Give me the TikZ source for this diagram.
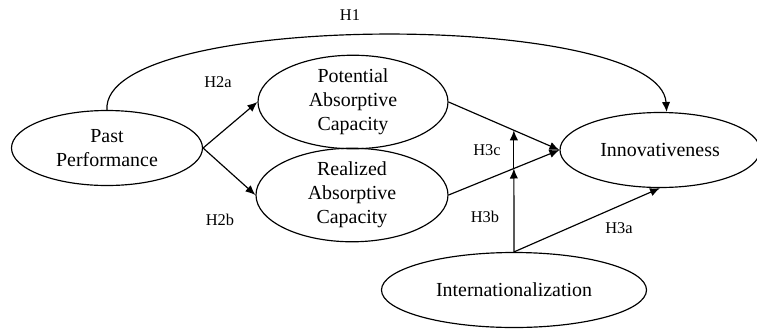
\documentclass[tikz,border=0pt]{standalone}
\usepackage{fontspec}
\setmainfont{Liberation Serif}
\usepackage{tikz}
\usetikzlibrary{shapes.geometric,arrows.meta,calc}

\begin{document}
\begin{tikzpicture}[x=0.03cm,y=-0.03cm,
  var/.style={draw, ellipse, line width=1pt, inner sep=0pt, minimum height=2.25cm,
    align=center, font=\fontsize{17}{20.5}\selectfont},
  hyp/.style={font=\fontsize{14}{16}\selectfont},
  path/.style={line width=1pt, -{Latex[length=3mm,width=2.5mm]}}]
\useasboundingbox (0,0) rectangle (757,328);

\node[var, minimum width=5.73cm] (past) at (107,148) {Past\\Performance};
\node[var, minimum width=5.7cm] (pot) at (353,102) {Potential\\Absorptive\\Capacity};
\node[var, minimum width=5.76cm] (rea) at (352,195) {Realized\\Absorptive\\Capacity};
\node[var, minimum width=6cm] (inn) at (660,150) {Innovativeness};
\node[var, minimum width=7.95cm] (int) at (514,290) {Internationalization};

\coordinate (h3c) at ($(pot.east)!0.589!(inn.west)$);
\coordinate (h3b) at ($(rea.east)!0.589!(inn.west)$);

\node[hyp] (l1) at (350,15) {H1};
\node[hyp] (l2a) at (218,82) {H2a};
\node[hyp] (l2b) at (220,220) {H2b};
\node[hyp] (l3c) at (487,150) {H3c};
\node[hyp] (l3b) at (485,217) {H3b};
\node[hyp] (l3a) at (619,228) {H3a};

\draw[path] (past.north) .. controls (100,10) and (660,10) .. (inn.80);
\draw[path] (past.east) -- (pot.west);
\draw[path] (past.east) -- (rea.west);
\draw[path] (pot.east) -- (inn.west);
\draw[path] (rea.east) -- (inn.west);
\draw[path] (int.north) -- (h3b);
\draw[path] (h3b) -- (h3c);
\draw[path] (int.north) -- (inn.south);
\end{tikzpicture}
\end{document}
